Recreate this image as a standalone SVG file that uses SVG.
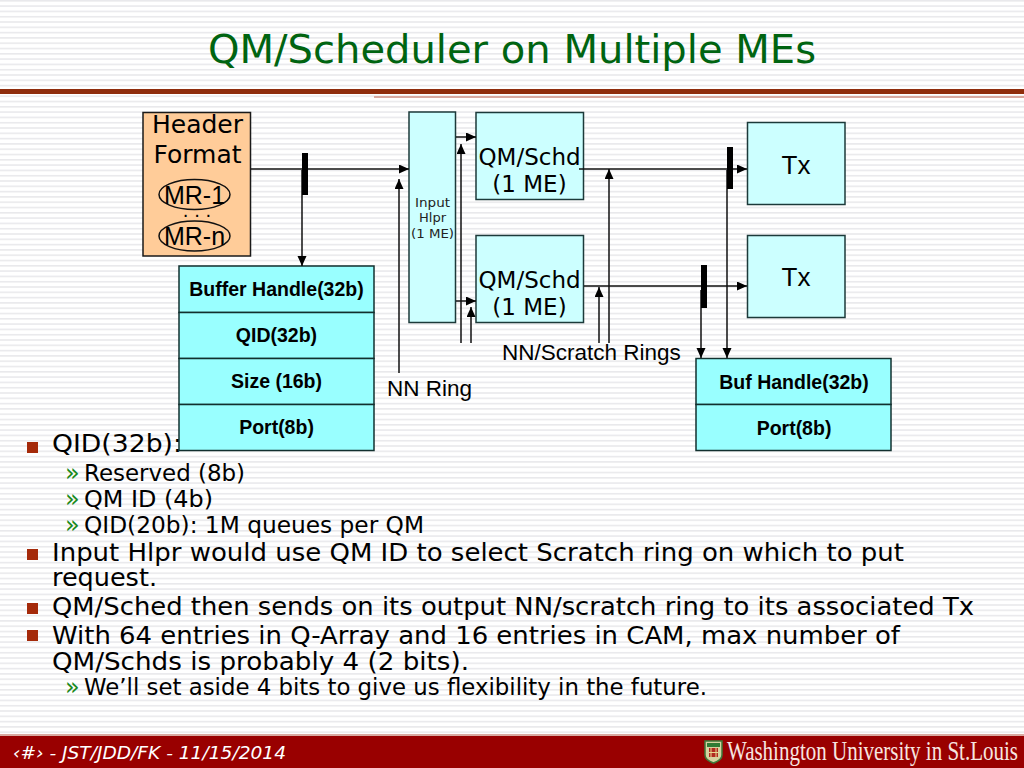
<svg xmlns="http://www.w3.org/2000/svg" width="1024" height="768" viewBox="0 0 1024 768">
<style>
.v{font-family:"DejaVu Sans","Noto Sans",sans-serif;fill:#000}
.a{font-family:"Liberation Sans",Arial,sans-serif;fill:#000}
.b{font-family:"Liberation Sans",Arial,sans-serif;fill:#000;font-weight:bold;font-size:19.500px;text-anchor:middle}
.m{text-anchor:middle}
.box{fill:#ccffff;stroke:#1c3a3a;stroke-width:1.500}
.cy{fill:#99ffff;stroke:#12302f;stroke-width:1.500}
.l{stroke:#111;stroke-width:1.500;fill:none}
.bar{fill:#000}
.l1{font-size:25.500px}
.l2{font-size:23px}
.g{font-family:"DejaVu Sans",sans-serif;font-size:24px;fill:#1b8a1b}
</style>
<defs>
<pattern id="st" width="4" height="5.300" patternUnits="userSpaceOnUse"><rect width="4" height="5.300" fill="#fff"/><rect y="0" width="4" height="1.600" fill="#e9e9ec"/></pattern>
<marker id="ah" markerUnits="userSpaceOnUse" markerWidth="11" markerHeight="10" refX="10" refY="4.500" orient="auto"><path d="M0 0L10 4.500L0 9Z" fill="#000"/></marker>
</defs>
<rect width="1024" height="768" fill="url(#st)"/>
<rect y="89" width="1024" height="5" fill="#8f2d0c"/>
<rect x="374" y="96" width="650" height="2" fill="#d8a9a0"/>
<text x="208" y="63" class="v" font-size="39" style="fill:#006411" textLength="608" lengthAdjust="spacingAndGlyphs">QM/Scheduler on Multiple MEs</text>

<g id="bullets">
<g fill="#a52a0a">
<rect x="27" y="442" width="11" height="11"/>
<rect x="27" y="549" width="11" height="11"/>
<rect x="27" y="603" width="11" height="11"/>
<rect x="27" y="630" width="11" height="11"/>
</g>
<text x="65" y="481" class="g">»</text>
<text x="65" y="507" class="g">»</text>
<text x="65" y="533" class="g">»</text>
<text x="65" y="695" class="g">»</text>
<text x="52" y="452" class="v l1" textLength="130" lengthAdjust="spacingAndGlyphs">QID(32b):</text>
<text x="84" y="481" class="v l2" textLength="161" lengthAdjust="spacingAndGlyphs">Reserved (8b)</text>
<text x="84" y="507" class="v l2" textLength="129" lengthAdjust="spacingAndGlyphs">QM ID (4b)</text>
<text x="84" y="533" class="v l2" textLength="340" lengthAdjust="spacingAndGlyphs">QID(20b): 1M queues per QM</text>
<text x="52" y="561" class="v l1" textLength="852" lengthAdjust="spacingAndGlyphs">Input Hlpr would use QM ID to select Scratch ring on which to put</text>
<text x="52" y="586" class="v l1" textLength="105" lengthAdjust="spacingAndGlyphs">request.</text>
<text x="52" y="615" class="v l1" textLength="922" lengthAdjust="spacingAndGlyphs">QM/Sched then sends on its output NN/scratch ring to its associated Tx</text>
<text x="52" y="644" class="v l1" textLength="848" lengthAdjust="spacingAndGlyphs">With 64 entries in Q-Array and 16 entries in CAM, max number of</text>
<text x="52" y="670" class="v l1" textLength="417" lengthAdjust="spacingAndGlyphs">QM/Schds is probably 4 (2 bits).</text>
<text x="84" y="695" class="v l2" textLength="623" lengthAdjust="spacingAndGlyphs">We’ll set aside 4 bits to give us flexibility in the future.</text>
</g>

<g id="header-format">
<rect x="143" y="112.500" width="107.500" height="143.500" fill="#ffcc99" stroke="#1a1a1a" stroke-width="1.500"/>
<text x="197.500" y="133" class="v m" font-size="25">Header</text>
<text x="197.500" y="163" class="v m" font-size="25">Format</text>
<ellipse cx="194.500" cy="194.500" rx="35.500" ry="15" fill="none" stroke="#111" stroke-width="1.500"/>
<text x="194.500" y="204" class="a m" font-size="25">MR-1</text>
<text x="197" y="217" class="v m" font-size="18">. . .</text>
<ellipse cx="194.500" cy="236" rx="35.500" ry="15" fill="none" stroke="#111" stroke-width="1.500"/>
<text x="194.500" y="245" class="a m" font-size="25">MR-n</text>
</g>

<g id="buffer-table">
<rect class="cy" x="179" y="266" width="195" height="46.500"/>
<rect class="cy" x="179" y="312.500" width="195" height="46"/>
<rect class="cy" x="179" y="358.500" width="195" height="46"/>
<rect class="cy" x="179" y="404.500" width="195" height="46"/>
<text x="276.500" y="296" class="b">Buffer Handle(32b)</text>
<text x="276.500" y="342" class="b">QID(32b)</text>
<text x="276.500" y="388" class="b">Size (16b)</text>
<text x="276.500" y="434" class="b">Port(8b)</text>
</g>

<g id="input-hlpr">
<rect class="box" x="409" y="112" width="46.500" height="210.500"/>
<text x="432.500" y="207" class="v m" font-size="13" style="fill:#222" textLength="35" lengthAdjust="spacingAndGlyphs">Input</text>
<text x="432.500" y="222" class="v m" font-size="13" style="fill:#222" textLength="27" lengthAdjust="spacingAndGlyphs">Hlpr</text>
<text x="432.500" y="238" class="v m" font-size="13" style="fill:#222" textLength="43" lengthAdjust="spacingAndGlyphs">(1 ME)</text>
</g>

<g id="qm-schd-1">
<rect class="box" x="476" y="112.500" width="107.500" height="87"/>
<text x="529.500" y="165" class="v m" font-size="23">QM/Schd</text>
<text x="529.500" y="192" class="v m" font-size="23">(1 ME)</text>
</g>
<g id="qm-schd-2">
<rect class="box" x="476" y="235.500" width="107.500" height="87"/>
<text x="529.500" y="288" class="v m" font-size="23">QM/Schd</text>
<text x="529.500" y="315" class="v m" font-size="23">(1 ME)</text>
</g>

<g id="tx-1">
<rect class="box" x="747.500" y="122.500" width="97.500" height="82"/>
<text x="796" y="174" class="a m" font-size="26">Tx</text>
</g>
<g id="tx-2">
<rect class="box" x="747.500" y="235.500" width="97.500" height="82"/>
<text x="796" y="286" class="a m" font-size="26">Tx</text>
</g>

<g id="buf-table">
<rect class="cy" x="696" y="358.500" width="195" height="46"/>
<rect class="cy" x="696" y="404.500" width="195" height="46"/>
<text x="794" y="389" class="b">Buf Handle(32b)</text>
<text x="794" y="435" class="b">Port(8b)</text>
</g>

<g id="connectors">
<path class="l" d="M251 169H409" marker-end="url(#ah)"/>
<path class="l" d="M302 170V266" marker-end="url(#ah)"/>
<path class="l" d="M399 373V179" marker-end="url(#ah)"/>
<path class="l" d="M456 137H476" marker-end="url(#ah)"/>
<path class="l" d="M456 301H476" marker-end="url(#ah)"/>
<path class="l" d="M461 343V144" marker-end="url(#ah)"/>
<path class="l" d="M471 343V307" marker-end="url(#ah)"/>
<path class="l" d="M579 169H747" marker-end="url(#ah)"/>
<path class="l" d="M584 286H747" marker-end="url(#ah)"/>
<path class="l" d="M609 343V169" marker-end="url(#ah)"/>
<path class="l" d="M599 343V287" marker-end="url(#ah)"/>
<path class="l" d="M727 170V358" marker-end="url(#ah)"/>
<path class="l" d="M701 290V358" marker-end="url(#ah)"/>
<rect class="bar" x="302" y="153" width="6" height="42"/>
<rect class="bar" x="727" y="147" width="6" height="42"/>
<rect class="bar" x="701" y="265" width="6" height="43"/>
</g>

<text x="502" y="360" class="a" font-size="22.500">NN/Scratch Rings</text>
<text x="387" y="396" class="a" font-size="22.500">NN Ring</text>

<rect y="734" width="1024" height="34" fill="#990000"/>
<rect y="734" width="1024" height="2" fill="#d9a9a0"/>
<text x="13" y="759" font-family="DejaVu Sans,sans-serif" font-size="17" font-style="italic" fill="#fff" textLength="273" lengthAdjust="spacingAndGlyphs">‹#› - JST/JDD/FK - 11/15/2014</text>
<g id="logo">
<path d="M705 741H722V755Q722 760 713.500 763Q705 760 705 755Z" fill="#d6d2a0" stroke="#3d7a3a" stroke-width="1.500"/>
<rect x="707" y="743" width="13" height="4" fill="#2f7b35"/>
<rect x="709" y="748" width="9" height="9" fill="#b02a20"/>
<path d="M711 748V757M716 748V757M709 752.500H718" stroke="#e8d890" stroke-width="1"/>
</g>
<text transform="translate(727 760) scale(1 1.280)" font-family="Liberation Serif,serif" font-size="21" fill="#f7e6e0" textLength="291" lengthAdjust="spacingAndGlyphs">Washington University in St.Louis</text>
</svg>
